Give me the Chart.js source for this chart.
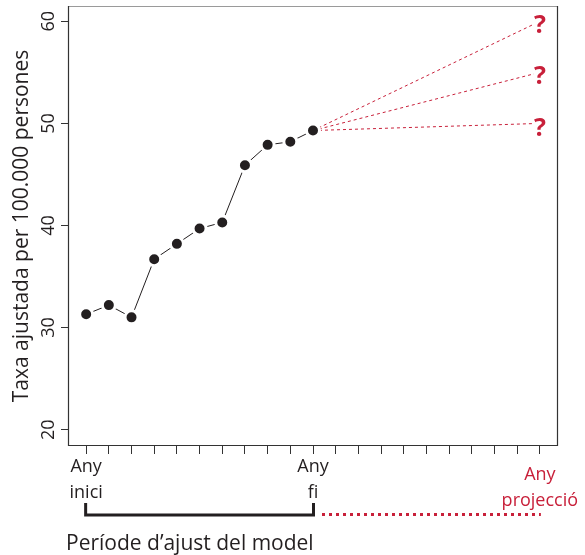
<!DOCTYPE html>
<html>
<head>
<meta charset="utf-8">
<script src="https://cdn.jsdelivr.net/npm/chart.js@4"></script>
<style>
  html, body { margin: 0; padding: 0; background: #fff; }
  #wrap { width: 585px; height: 555px; }
</style>
</head>
<body>
<div id="wrap"><canvas id="chart" width="585" height="555"></canvas></div>
<script>
// anys del període d'ajust (índex) i taxes observades
const fitYears = [0, 1, 2, 3, 4, 5, 6, 7, 8, 9, 10]
const rateValues = [31.3, 32.2, 31.0, 36.7, 38.2, 39.7, 40.3, 45.9, 47.9, 48.2, 49.3]

// projeccions possibles a l'any de projecció
const projectionYear = 20
const projectionValues = [60, 55, 50]

const yTicks = [20, 30, 40, 50, 60]
const xTickIdx = [0, 1, 2, 3, 4, 5, 6, 7, 8, 9, 10, 11, 12, 13, 14, 15, 16, 17, 18, 19, 20]
const xLabelIdx = [0, 10, 20]
const xLabelText = [['Any', 'inici'], ['Any', 'fi'], ['Any', 'projecció']]

const RED = '#c8203a'
const INK = '#231f20'
const FONT = "'Open Sans', sans-serif"

const lastYear = fitYears[fitYears.length - 1]
const lastValue = rateValues[rateValues.length - 1]

const observed = {
  data: fitYears.map((x, i) => ({ x: x, y: rateValues[i] })),
  borderColor: INK,
  borderWidth: 1,
  pointRadius: 6.5,
  pointHoverRadius: 6.5,
  pointBackgroundColor: INK,
  pointBorderColor: '#ffffff',
  pointBorderWidth: 3,
  order: 0
}

const projections = projectionValues.map(v => ({
  data: [{ x: lastYear, y: lastValue }, { x: projectionYear, y: v }],
  borderColor: RED,
  borderWidth: 1,
  borderDash: [3, 3],
  pointRadius: 0,
  order: 1
}))

const annotations = {
  id: 'annotations',
  afterDraw(chart) {
    const { ctx, chartArea: a, scales: { x, y } } = chart
    ctx.save()

    // caixa del gràfic
    ctx.lineWidth = 1.2
    ctx.strokeStyle = '#9a9a9a'
    ctx.beginPath(); ctx.moveTo(a.left, a.top + 0.5); ctx.lineTo(a.right, a.top + 0.5); ctx.stroke()
    ctx.strokeStyle = '#333'
    ctx.beginPath()
    ctx.moveTo(a.right - 0.5, a.top); ctx.lineTo(a.right - 0.5, a.bottom - 0.5)
    ctx.lineTo(a.left + 0.5, a.bottom - 0.5); ctx.lineTo(a.left + 0.5, a.top)
    ctx.stroke()

    // etiquetes de l'eix y, girades
    ctx.font = "18px " + FONT
    ctx.fillStyle = INK
    ctx.textAlign = 'center'
    ctx.textBaseline = 'middle'
    yTicks.forEach(v => {
      ctx.save()
      ctx.translate(a.left - 19, y.getPixelForValue(v))
      ctx.rotate(-Math.PI / 2)
      ctx.fillText(String(v), 0, 0)
      ctx.restore()
    })

    // interrogants
    ctx.font = "bold 25px " + FONT
    projectionValues.forEach(v => {
      const px = x.getPixelForValue(projectionYear)
      const py = y.getPixelForValue(v) + 4
      ctx.fillStyle = '#fff'
      ctx.fillRect(px - 6, py - 12, 13, 22)
      ctx.fillStyle = RED
      ctx.fillText('?', px, py + 1)
    })

    // etiquetes de l'eix x
    ctx.font = "18px " + FONT
    xLabelIdx.forEach((idx, i) => {
      const px = x.getPixelForValue(idx)
      const red = idx === projectionYear
      const top = a.bottom + (red ? 29 : 21)
      ctx.fillStyle = red ? RED : INK
      ctx.fillText(xLabelText[i][0], px, top)
      ctx.fillText(xLabelText[i][1], px, top + 26)
    })

    // claudàtor del període d'ajust
    const x0 = x.getPixelForValue(fitYears[0])
    const x1 = x.getPixelForValue(lastYear)
    const x2 = x.getPixelForValue(projectionYear)
    const by = a.bottom + 69
    ctx.strokeStyle = INK
    ctx.lineWidth = 3
    ctx.beginPath()
    ctx.moveTo(x0 - 0.5, by - 12); ctx.lineTo(x0 - 0.5, by); ctx.lineTo(x1 + 0.5, by); ctx.lineTo(x1 + 0.5, by - 12)
    ctx.stroke()

    ctx.strokeStyle = RED
    ctx.setLineDash([3, 4])
    ctx.beginPath(); ctx.moveTo(x1 + 9, by - 0.5); ctx.lineTo(x2 + 1, by - 0.5); ctx.stroke()
    ctx.setLineDash([])

    ctx.fillStyle = INK
    ctx.font = "21px " + FONT
    ctx.textAlign = 'left'
    ctx.fillText('Període d\u2019ajust del model', 66, by + 29)

    ctx.restore()
  }
}

new Chart(document.getElementById('chart'), {
  type: 'line',
  data: { datasets: [observed, ...projections] },
  options: {
    responsive: false,
    animation: false,
    layout: { autoPadding: false, padding: { top: 6, right: 27, left: 0, bottom: 0 } },
    plugins: { legend: { display: false }, tooltip: { enabled: false } },
    scales: {
      x: {
        type: 'linear',
        min: -0.8,
        max: 20.8,
        afterBuildTicks: s => { s.ticks = xTickIdx.map(v => ({ value: v })) },
        afterFit: s => { s.height = 109 },
        border: { display: false },
        grid: { drawOnChartArea: false, drawTicks: true, tickLength: 8, color: '#333', lineWidth: 1 },
        ticks: { display: false }
      },
      y: {
        min: 18.4,
        max: 61.5,
        afterBuildTicks: s => { s.ticks = yTicks.map(v => ({ value: v })) },
        afterFit: s => { s.width = 68 },
        border: { display: false },
        grid: { drawOnChartArea: false, drawTicks: true, tickLength: 7, color: '#333', lineWidth: 1 },
        ticks: { display: false },
        title: {
          display: true,
          text: 'Taxa ajustada per 100.000 persones',
          color: INK,
          font: { family: FONT, size: 21 },
          padding: { top: 9, bottom: 0 }
        }
      }
    }
  },
  plugins: [annotations]
})
</script>
</body>
</html>
